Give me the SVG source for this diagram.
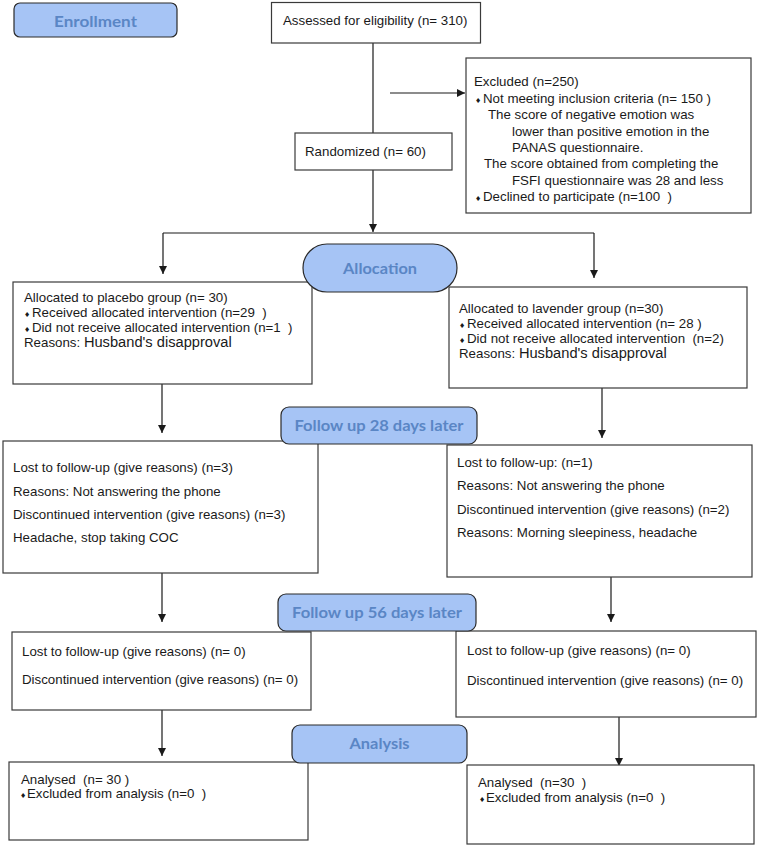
<svg xmlns="http://www.w3.org/2000/svg" width="761" height="846" viewBox="0 0 761 846">
<defs>
<marker id="arr" viewBox="0 0 10 10" refX="10" refY="5" markerWidth="8" markerHeight="8" markerUnits="userSpaceOnUse" orient="auto">
<path d="M0,0 L10,5 L0,10 z" fill="#1a1a1a"/>
</marker>
<style>
.box{fill:#fff;stroke:#3a3a3a;stroke-width:1.2}
.stage{fill:#a6c4f5;stroke:#2a2a2a;stroke-width:1.2}
.stxt{font-family:Lato,"Open Sans",sans-serif;font-weight:bold;font-size:16px;fill:#5a86c5;text-anchor:middle}
.t{font-family:"Liberation Sans",Arial,sans-serif;font-size:13.3px;fill:#1a1a1a;white-space:pre}
.big{font-size:14.67px}
.b{font-family:"DejaVu Sans",sans-serif;font-size:7px}
.ln{fill:none;stroke:#1a1a1a;stroke-width:1.2}
</style>
</defs>
<rect width="761" height="846" fill="#fff"/>

<g id="connectors">
<line class="ln" x1="373" y1="43" x2="373" y2="133"/>
<line class="ln" x1="373" y1="170" x2="373" y2="232" marker-end="url(#arr)"/>
<line class="ln" x1="390" y1="93" x2="465" y2="93" marker-end="url(#arr)"/>
<line class="ln" x1="163" y1="233" x2="594" y2="233"/>
<line class="ln" x1="163" y1="233" x2="163" y2="274" marker-end="url(#arr)"/>
<line class="ln" x1="594" y1="233" x2="594" y2="278" marker-end="url(#arr)"/>
<line class="ln" x1="162" y1="384" x2="162" y2="433" marker-end="url(#arr)"/>
<line class="ln" x1="602" y1="388" x2="602" y2="438" marker-end="url(#arr)"/>
<line class="ln" x1="162" y1="573" x2="162" y2="622" marker-end="url(#arr)"/>
<line class="ln" x1="611" y1="577" x2="611" y2="622" marker-end="url(#arr)"/>
<line class="ln" x1="162" y1="710" x2="162" y2="756" marker-end="url(#arr)"/>
<line class="ln" x1="619" y1="717" x2="619" y2="766" marker-end="url(#arr)"/>
</g>

<g id="assessed">
<rect class="box" x="271.5" y="2.5" width="209" height="40.5"/>
<text class="t" x="283" y="25">Assessed for eligibility (n= 310)</text>
</g>

<g id="excluded">
<rect class="box" x="466" y="58" width="285" height="155"/>
<text class="t" x="474" y="86">Excluded (n=250)</text>
<text class="t" x="475" y="102.5"><tspan class="b">♦</tspan></text>
<text class="t" x="483" y="102.5">Not meeting inclusion criteria (n= 150 )</text>
<text class="t" x="488" y="119">The score of negative emotion was</text>
<text class="t" x="512" y="135.5">lower than positive emotion in the</text>
<text class="t" x="512" y="152">PANAS questionnaire.</text>
<text class="t" x="484" y="168">The score obtained from completing the</text>
<text class="t" x="512" y="184.5">FSFI questionnaire was 28 and less</text>
<text class="t" x="475" y="201"><tspan class="b">♦</tspan></text>
<text class="t" x="483" y="201">Declined to participate (n=100  )</text>
</g>

<g id="randomized">
<rect class="box" x="295" y="133" width="157" height="37"/>
<text class="t" x="305" y="156">Randomized (n= 60)</text>
</g>

<g id="alloc-left">
<rect class="box" x="13" y="282" width="299" height="102"/>
<text class="t" x="24" y="302">Allocated to placebo group (n= 30)</text>
<text class="t" x="24" y="317"><tspan class="b">♦</tspan></text>
<text class="t" x="32" y="317">Received allocated intervention (n=29  )</text>
<text class="t" x="24" y="332"><tspan class="b">♦</tspan></text>
<text class="t" x="32" y="332">Did not receive allocated intervention (n=1  )</text>
<text class="t" x="24" y="347">Reasons: <tspan class="big">Husband's disapproval</tspan></text>
</g>

<g id="alloc-right">
<rect class="box" x="449" y="287" width="298" height="101"/>
<text class="t" x="459" y="313">Allocated to lavender group (n=30)</text>
<text class="t" x="459" y="328"><tspan class="b">♦</tspan></text>
<text class="t" x="467" y="328">Received allocated intervention (n= 28 )</text>
<text class="t" x="459" y="343"><tspan class="b">♦</tspan></text>
<text class="t" x="467" y="343">Did not receive allocated intervention  (n=2)</text>
<text class="t" x="459" y="358">Reasons: <tspan class="big">Husband's disapproval</tspan></text>
</g>

<g id="fu28-left">
<rect class="box" x="3" y="441" width="315" height="132"/>
<text class="t" x="13" y="472">Lost to follow-up (give reasons) (n=3)</text>
<text class="t" x="13" y="496">Reasons: Not answering the phone</text>
<text class="t" x="13" y="519">Discontinued intervention (give reasons) (n=3)</text>
<text class="t" x="13" y="542">Headache, stop taking COC</text>
</g>

<g id="fu28-right">
<rect class="box" x="447" y="445" width="305" height="132"/>
<text class="t" x="457" y="467">Lost to follow-up: (n=1)</text>
<text class="t" x="457" y="490">Reasons: Not answering the phone</text>
<text class="t" x="457" y="514">Discontinued intervention (give reasons) (n=2)</text>
<text class="t" x="457" y="537">Reasons: Morning sleepiness, headache</text>
</g>

<g id="fu56-left">
<rect class="box" x="12" y="632" width="299" height="78"/>
<text class="t" x="22" y="656">Lost to follow-up (give reasons) (n= 0)</text>
<text class="t" x="22" y="684">Discontinued intervention (give reasons) (n= 0)</text>
</g>

<g id="fu56-right">
<rect class="box" x="456" y="631" width="300" height="86"/>
<text class="t" x="467" y="655">Lost to follow-up (give reasons) (n= 0)</text>
<text class="t" x="467" y="685">Discontinued intervention (give reasons) (n= 0)</text>
</g>

<g id="analysis-left">
<rect class="box" x="9" y="762" width="299" height="78"/>
<text class="t" x="21" y="784">Analysed  (n= 30 )</text>
<text class="t" x="20" y="798"><tspan class="b">♦</tspan></text>
<text class="t" x="27" y="798">Excluded from analysis (n=0  )</text>
</g>

<g id="analysis-right">
<rect class="box" x="467" y="765" width="287" height="79"/>
<text class="t" x="478" y="787">Analysed  (n=30  )</text>
<text class="t" x="479" y="802"><tspan class="b">♦</tspan></text>
<text class="t" x="486" y="802">Excluded from analysis (n=0  )</text>
</g>

<g id="stage-enrollment">
<rect class="stage" x="14" y="3" width="163" height="34" rx="6"/>
<text class="stxt" x="95.5" y="27" textLength="83" lengthAdjust="spacingAndGlyphs">Enrollment</text>
</g>

<g id="stage-allocation">
<rect class="stage" x="303" y="244" width="154" height="48" rx="24"/>
<text class="stxt" x="380" y="274" textLength="74" lengthAdjust="spacingAndGlyphs">Allocation</text>
</g>

<g id="stage-fu28">
<rect class="stage" x="281" y="407" width="196" height="37" rx="8"/>
<text class="stxt" x="379" y="431" textLength="169" lengthAdjust="spacingAndGlyphs">Follow up 28 days later</text>
</g>

<g id="stage-fu56">
<rect class="stage" x="278" y="594" width="198" height="37" rx="8"/>
<text class="stxt" x="377" y="618" textLength="170" lengthAdjust="spacingAndGlyphs">Follow up 56 days later</text>
</g>

<g id="stage-analysis">
<rect class="stage" x="292" y="725" width="175" height="38" rx="8"/>
<text class="stxt" x="379.5" y="749" textLength="60" lengthAdjust="spacingAndGlyphs">Analysis</text>
</g>
</svg>
